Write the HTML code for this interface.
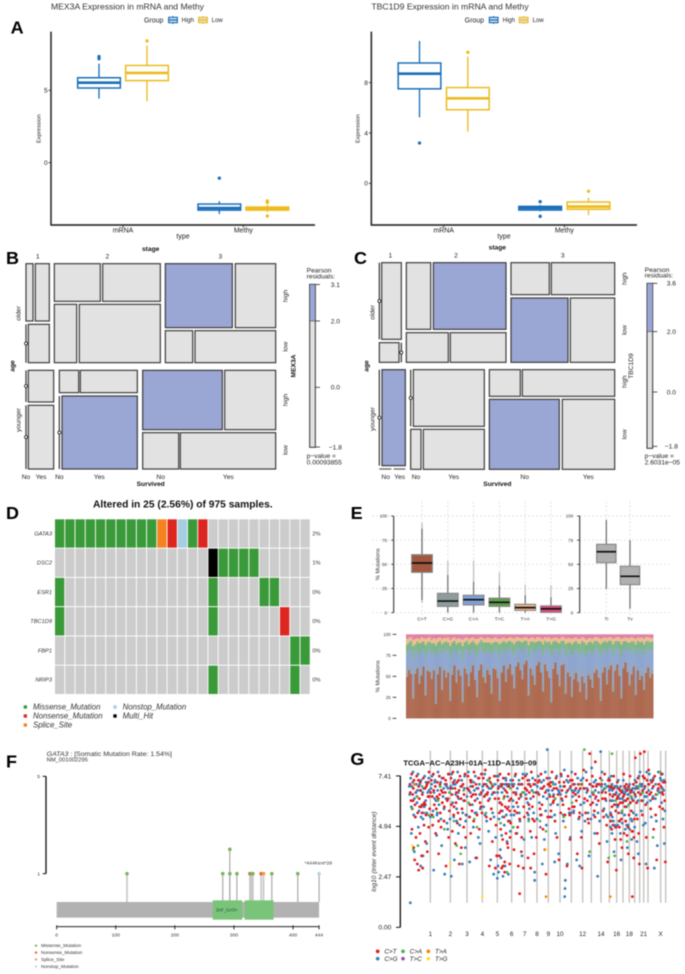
<!DOCTYPE html>
<html lang="en">
<head>
<meta charset="utf-8">
<title>Expression and mutation figure</title>
<style>
html,body{margin:0;padding:0;background:#fff;}
body{width:685px;height:974px;overflow:hidden;}
svg{display:block;filter:blur(0.45px);font-family:"Liberation Sans",sans-serif;}
.lt{font-size:54px;font-weight:700;fill:#000;}
.ttl{font-size:26px;fill:#333;}
.lab{font-size:21px;fill:#222;}
.key{font-size:18px;fill:#222;}
.ylab{font-size:17.5px;fill:#222;}
.mos{font-size:20px;fill:#222;}
.mosb{font-size:20px;font-weight:700;fill:#111;}
</style>
</head>
<body>
<svg id="figure" xmlns="http://www.w3.org/2000/svg" width="685" height="974" viewBox="0 0 685 974">
<rect width="685" height="974" fill="#fff"/>

<g id="panelA" transform="scale(.33333)">
  <text class="lt" x="32" y="100">A</text>
  <text class="ttl" x="153" y="29" textLength="459" lengthAdjust="spacingAndGlyphs">MEX3A Expression in mRNA and Methy</text>
  <text class="lab" x="432" y="67">Group</text>
  <text class="key" x="545" y="66">High</text>
  <text class="key" x="635" y="66">Low</text>
  <text class="ylab" transform="translate(121,386) rotate(-90)" text-anchor="middle">Expression</text>
  <text class="lab" x="549" y="715" text-anchor="middle">type</text>
</g>

<g id="panelA2" transform="translate(342,0) scale(.33333)">
  <text class="ttl" x="88" y="29" textLength="472" lengthAdjust="spacingAndGlyphs">TBC1D9 Expression in mRNA and Methy</text>
  <text class="lab" x="368" y="67">Group</text>
  <text class="key" x="482" y="66">High</text>
  <text class="key" x="572" y="66">Low</text>
  <text class="ylab" transform="translate(53,386) rotate(-90)" text-anchor="middle">Expression</text>
  <text class="lab" x="486" y="715" text-anchor="middle">type</text>
</g>

<g id="panelB" transform="translate(0,240) scale(.33333)">
  <text class="lt" x="18" y="72" font-weight="400">B</text>
  <text class="mosb" x="452" y="33" text-anchor="middle">stage</text>
  <text class="mos" x="113" y="55" text-anchor="middle">1</text>
  <text class="mos" x="322" y="55" text-anchor="middle">2</text>
  <text class="mos" x="661" y="55" text-anchor="middle">3</text>
  <text class="mos" transform="translate(61,220) rotate(-90)" text-anchor="middle">older</text>
  <text class="mos" transform="translate(61,540) rotate(-90)" text-anchor="middle">younger</text>
  <text class="mosb" transform="translate(43,378) rotate(-90)" text-anchor="middle">age</text>
  <text class="mos" transform="translate(862,168) rotate(-90)" text-anchor="middle">high</text>
  <text class="mos" transform="translate(862,320) rotate(-90)" text-anchor="middle">low</text>
  <text class="mos" transform="translate(862,480) rotate(-90)" text-anchor="middle">high</text>
  <text class="mos" transform="translate(862,630) rotate(-90)" text-anchor="middle">low</text>
  <text class="mosb" transform="translate(887,378) rotate(-90)" text-anchor="middle">MEX3A</text>
  <text class="mos" x="78" y="717" text-anchor="middle">No</text>
  <text class="mos" x="123" y="717" text-anchor="middle">Yes</text>
  <text class="mos" x="178" y="717" text-anchor="middle">No</text>
  <text class="mos" x="298" y="717" text-anchor="middle">Yes</text>
  <text class="mos" x="482" y="717" text-anchor="middle">No</text>
  <text class="mos" x="685" y="717" text-anchor="middle">Yes</text>
  <text class="mosb" x="452" y="738" text-anchor="middle">Survived</text>
  <text class="mos" x="920" y="98">Pearson</text>
  <text class="mos" x="920" y="116">residuals:</text>
  <text class="mos" x="920" y="654">p&#8722;value =</text>
  <text class="mos" x="920" y="673">0.00093855</text>
</g>

<g id="panelC" transform="translate(342,240) scale(.33333)">
  <text class="lt" x="36" y="72">C</text>
  <text class="mosb" x="466" y="29" text-anchor="middle">stage</text>
  <text class="mos" x="145" y="53" text-anchor="middle">1</text>
  <text class="mos" x="342" y="53" text-anchor="middle">2</text>
  <text class="mos" x="662" y="53" text-anchor="middle">3</text>
  <text class="mos" transform="translate(98,217) rotate(-90)" text-anchor="middle">older</text>
  <text class="mos" transform="translate(98,537) rotate(-90)" text-anchor="middle">younger</text>
  <text class="mosb" transform="translate(79,378) rotate(-90)" text-anchor="middle">age</text>
  <text class="mos" transform="translate(854,116) rotate(-90)" text-anchor="middle">high</text>
  <text class="mos" transform="translate(854,270) rotate(-90)" text-anchor="middle">low</text>
  <text class="mos" transform="translate(854,425) rotate(-90)" text-anchor="middle">high</text>
  <text class="mos" transform="translate(854,583) rotate(-90)" text-anchor="middle">low</text>
  <text class="mos" transform="translate(873,378) rotate(-90)" text-anchor="middle">TBC1D9</text>
  <text class="mos" x="131" y="717" text-anchor="middle">No</text>
  <text class="mos" x="173" y="717" text-anchor="middle">Yes</text>
  <text class="mos" x="222" y="717" text-anchor="middle">No</text>
  <text class="mos" x="335" y="717" text-anchor="middle">Yes</text>
  <text class="mos" x="548" y="717" text-anchor="middle">No</text>
  <text class="mos" x="739" y="717" text-anchor="middle">Yes</text>
  <text class="mosb" x="466" y="738" text-anchor="middle">Survived</text>
  <text class="mos" x="908" y="96">Pearson</text>
  <text class="mos" x="908" y="113">residuals:</text>
  <text class="mos" x="908" y="654">p&#8722;value =</text>
  <text class="mos" x="908" y="673">2.6031e&#8722;05</text>
</g>

<g id="panelD" transform="translate(0,485) scale(.33333)">
  <text class="lt" x="18" y="102" font-weight="400">D</text>
  <text x="279" y="68" font-size="29" font-weight="700" fill="#111" textLength="539" lengthAdjust="spacingAndGlyphs">Altered in 25 (2.56%) of 975 samples.</text>
</g>

<g id="panelE" transform="translate(342,485) scale(.33333)">
  <text class="lt" x="26" y="102" font-weight="400">E</text>
  <text font-size="17.5" fill="#333" transform="translate(112,238) rotate(-90)" text-anchor="middle">% Mutations</text>
  <text font-size="17.5" fill="#333" transform="translate(112,574) rotate(-90)" text-anchor="middle">% Mutations</text>
</g>

<g id="panelF" transform="translate(0,730) scale(.33333)">
  <text class="lt" x="18" y="112" font-weight="400">F</text>
  <text x="140" y="78" font-size="20" fill="#333" textLength="376" lengthAdjust="spacingAndGlyphs"><tspan font-style="italic">GATA3</tspan> : [Somatic Mutation Rate: 1.54%]</text>
  <text x="140" y="95" font-size="17" fill="#333" textLength="124" lengthAdjust="spacingAndGlyphs">NM_001002295</text>
  <text x="955" y="403" font-size="15" fill="#333" text-anchor="middle">*444Kext*28</text>
</g>

<g id="panelG" transform="translate(342,730) scale(.33333)">
  <text class="lt" x="25" y="105">G</text>
  <text font-size="20" font-style="italic" fill="#333" transform="translate(102,365) rotate(-90)" text-anchor="middle">log10 (inter event distance)</text>
</g>
</svg>

<script>
/* ---------- panel A data: [whiskerLow, q1, median, q3, whiskerHigh, outliers] ---------- */
const exprCategories = ['mRNA', 'Methy'];
const mex3aHigh = [[4.43, 5.16, 5.53, 5.87, 6.84, [7.34, 7.18]], [-3.55, -3.28, -3.14, -2.86, -2.66, [-1.07]]];
const mex3aLow = [[4.25, 5.67, 6.2, 6.72, 8.1, [8.42]], [-3.41, -3.28, -3.17, -3.07, -2.93, [-2.64, -2.75, -3.69]]];
const tbc1d9High = [[5.24, 7.5, 8.7, 9.55, 11.3, [3.2]], [-2.22, -2.12, -1.96, -1.83, -1.72, [-1.46, -2.62]]];
const tbc1d9Low = [[4.1, 5.84, 6.75, 7.6, 10.05, [10.4]], [-2.52, -2.06, -1.85, -1.48, -1.14, [-0.63]]];
const mex3aTicks = [5, 0];
const tbc1d9Ticks = [8, 4, 0];

/* ---------- panels B, C: tiles are [x0, x1, y0, y1, residualHigh] in mosaic share units ---------- */
const mosaicBTiles = [
 [0,21,0,172,0],[28,70,0,172,0],[7,70,182,297,0],[85,223,0,113,0],[230,403,0,113,0],[85,152,122,297,0],[160,403,122,297,0],
 [418,619,0,192,1],[628,749,0,192,0],[418,500,201,297,0],[507,749,201,297,0],[7,83,320,415,0],[7,83,425,616,0],
 [100,158,320,387,0],[163,334,320,387,0],[108,334,397,616,1],[350,589,320,498,1],[596,749,320,498,0],[350,458,507,616,0],[463,749,507,616,0]
];
const mosaicBZeroCells = [[0,182,297],[0,320,415],[0,425,616],[100,397,616]];
const mosaicCTiles = [
 [7,66,0,230,0],[0,59,240,299,0],[81,154,0,200,0],[162,380,0,200,1],[81,207,210,299,0],[213,380,210,299,0],
 [395,510,0,96,0],[516,706,0,96,0],[395,566,106,299,1],[573,706,106,299,0],[8,78,321,609,1],[102,315,321,491,0],
 [94,125,500,620,0],[132,315,500,620,0],[330,423,321,401,0],[429,706,321,401,0],[330,540,410,620,1],[549,706,410,620,0]
];
const mosaicCZeroCells = [[0,0,230],[66,240,299],[0,321,609],[94,321,491]];
const mosaicCFlatCells = [[0,36,619],[43,78,619]];
const residualTicksB = [3.1, 2.0, 0.0, -1.8];
const residualTicksC = [3.6, 2.0, 0.0, -1.8];

/* ---------- panel D data ---------- */
const oncoGenes = ['GATA3', 'DSC2', 'ESR1', 'TBC1D9', 'FBP1', 'NRIP3'];
const oncoPercents = ['2%', '1%', '0%', '0%', '0%', '0%'];
const oncoGata3 = [1,1,1,1,1,1,1,1,1,1,3,2,4,1,2,0,0,0,0,0,0,0,0,0,0];
const oncoDsc2 = [0,0,0,0,0,0,0,0,0,0,0,0,0,0,0,5,1,1,1,1,0,0,0,0,0];
const oncoEsr1 = [1,0,0,0,0,0,0,0,0,0,0,0,0,0,0,1,0,0,0,0,1,1,0,0,0];
const oncoTbc1d9 = [1,0,0,0,0,0,0,0,0,0,0,0,0,0,0,1,0,0,0,0,0,0,2,0,0];
const oncoFbp1 = [0,0,0,0,0,0,0,0,0,0,0,0,0,0,0,0,0,0,0,0,0,0,0,1,1];
const oncoNrip3 = [0,0,0,0,0,0,0,0,0,0,0,0,0,0,0,1,0,0,0,0,0,0,0,1,0];
const oncoLegend = ['Missense_Mutation', 'Nonsense_Mutation', 'Splice_Site', 'Nonstop_Mutation', 'Multi_Hit'];

/* ---------- panel E data ---------- */
const titvTicks = [100, 75, 50, 25, 0];
const conversionNames = ['C>T', 'C>G', 'C>A', 'T>C', 'T>A', 'T>G'];
const conversionStats = [[13,41.7,51.4,60,87,[93,10]],[0,6.5,12,20,39,[54]],[0,8,13.4,18,32,[54]],[0,6.5,10.7,15,28,[42]],[0,2.4,5.2,8.6,18,[29]],[0,0.3,4,7,16,[28.5]]];
const titvNames = ['Ti', 'Tv'];
const titvStats = [[24.5,51.7,63,70.7,96,[]],[4,29,37.6,48,75,[]]];
const stackCT = [46,54,50,22,50,56,38,48,58,26,54,52,44,55,16,50,57,32,54,46,52,20,50,58,40,55,48,18,56,50,36,52,58,44,24,54,60,46,40,55,50,28,56,54,46,20,52,58,42,56,
  60,50,34,58,62,54,44,60,64,26,56,48,38,58,62,52,30,60,55,46,18,56,62,50,36,58,60,28,52,48,24,44,50,42,30,46,40,22,48,44,34,50,54,46,20,52,56,38,55,58,30,54,60,48,22,56,62,52,36,50,58,26,54,44,48,32,52,56,46,50];
const stackCG = [6,4,7,10,5,3,8,6,4,12,3,6,7,4,14,5,3,10,4,7,5,12,6,3,7,4,6,13,4,6,9,5,3,7,11,4,3,6,8,4,6,11,3,5,7,13,5,3,8,4,
  3,6,9,3,2,5,7,3,2,11,4,7,9,3,2,6,10,3,5,7,14,4,2,6,9,3,3,11,5,7,12,8,6,8,11,7,9,13,6,8,10,6,5,7,14,5,4,9,5,3,10,5,3,7,12,4,2,5,9,6,4,11,5,8,7,10,6,4,7,6];
const stackCA = [19,18,20,34,20,16,24,22,16,32,18,20,22,18,38,21,17,30,19,22,20,36,21,16,24,18,22,36,17,21,26,20,16,24,34,18,15,22,26,18,21,32,17,18,23,36,20,16,26,18,
  15,20,28,16,14,18,24,15,13,32,17,21,27,15,14,20,30,15,19,24,38,18,14,21,27,16,15,32,20,22,34,24,20,25,30,22,26,36,21,24,28,20,18,23,36,20,17,26,18,16,30,19,15,22,34,17,14,19,27,21,16,32,19,25,23,29,20,17,23,21];
const stackTC = [11,9,10,14,8,11,12,9,8,13,11,8,11,9,13,10,9,12,8,11,9,14,10,8,12,9,10,15,8,10,12,9,8,11,14,9,9,11,12,9,10,13,9,8,11,15,9,8,11,9,
  8,11,13,9,8,9,11,8,7,14,9,10,12,8,7,9,13,8,9,10,14,9,8,9,12,8,8,13,9,10,13,10,9,11,13,10,11,14,10,11,12,9,9,10,14,9,8,12,9,8,13,9,8,10,14,9,8,9,11,10,8,13,9,10,9,12,10,8,10,9];
const stackTA = [6,5,4,7,6,4,5,6,4,7,5,5,4,6,7,5,4,6,5,4,6,7,5,4,6,5,4,7,5,4,6,5,4,5,7,5,3,5,4,6,5,6,5,5,4,6,5,4,5,4,
  4,5,6,5,4,4,5,4,4,7,4,5,4,5,4,4,6,4,5,5,6,4,4,5,5,4,4,6,5,5,6,5,4,5,6,4,5,6,5,4,5,4,4,5,6,5,4,5,4,4,6,4,4,5,6,4,4,5,5,5,4,6,4,5,5,6,5,4,5,4];
const stackTG = [5,4,3,6,5,4,5,3,4,5,4,3,6,4,5,4,3,5,4,4,3,6,4,3,5,4,5,6,4,3,5,4,3,5,5,4,3,4,5,3,4,5,4,3,5,5,4,3,5,4,
  3,4,5,3,3,4,4,3,3,5,4,3,5,3,3,4,5,3,4,3,5,4,3,4,5,3,3,5,4,4,5,4,3,5,5,3,4,6,4,4,5,3,3,4,5,4,3,4,3,3,5,4,3,3,5,4,3,4,4,3,4,5,3,4,3,5,3,3,4,4];

/* ---------- panel F data ---------- */
const lollipopAxisTicks = [0, 100, 200, 300, 400, 444];
const lollipopCountTicks = [5, 1];
const lollipopAA = [119, 281, 293, 293, 305, 327, 329, 330, 332, 346, 350, 364, 408, 444];
const lollipopCounts = [1, 1, 2, 1, 1, 1, 1, 1, 1, 1, 1, 1, 1, 1];
const lollipopTypes = [0, 0, 0, 0, 0, 1, 0, 0, 0, 1, 2, 0, 0, 3];
const lollipopLegend = ['Missense_Mutation', 'Nonsense_Mutation', 'Splice_Site', 'Nonstop_Mutation'];
const proteinLength = [444];
const domainRanges = [[264, 314], [318, 367]];

/* ---------- panel G data: flat pairs of genome position, log10 distance ---------- */
const rainfallTicks = [7.41, 4.94, 2.47, 0.00];
const chromBoundaries = [65,125,175,221,266,309,348,385,419,454,488,522,548,577,602,624,643,662,678,693,705,718,756,771];
const chromLabels = ['1','2','3','4','5','6','7','8','9','10','','12','','14','','16','','18','','','21','','X',''];
const ctPoints = [
4,7.0,7,6.2,9,7.5,11,5.8,14,6.8,16,7.2,19,6.0,21,6.6,24,7.4,27,5.6,30,6.9,32,6.3,35,7.1,38,5.9,41,6.5,44,7.3,47,6.1,49,6.8,52,5.5,55,7.0,58,6.4,61,7.6,63,5.8,
10,4.8,15,3.9,18,3.3,22,4.4,26,3.1,30,2.8,34,4.6,39,3.5,42,2.9,46,5.0,50,4.2,56,3.7,60,4.9,
68,7.2,71,6.4,74,7.5,77,6.0,80,6.9,83,5.8,86,7.1,89,6.3,92,7.4,95,5.6,98,6.7,101,6.1,104,7.3,107,5.9,110,6.6,113,7.0,116,6.2,119,7.5,122,5.7,
72,5.0,81,4.6,90,3.6,97,4.9,106,5.2,112,3.0,120,4.4,
127,7.3,130,6.5,133,7.6,136,5.9,139,6.8,142,6.1,145,7.1,148,5.6,151,6.7,154,7.4,157,6.3,160,5.8,163,7.0,166,6.5,169,7.5,172,5.5,
131,4.7,140,4.1,146,5.1,152,3.1,158,3.9,165,4.9,171,4.4,
178,7.4,181,6.7,184,6.0,187,7.1,190,5.7,193,6.5,196,7.6,199,6.2,202,7.0,205,5.5,208,6.8,211,7.3,214,6.1,217,5.9,219,7.5,
186,4.6,195,5.2,204,3.4,212,4.8,
224,7.3,227,6.4,230,7.7,233,5.4,236,6.9,239,6.2,242,3.0,245,7.1,248,5.8,251,4.2,254,6.6,257,7.4,260,2.9,262,5.0,264,3.5,
268,7.2,270,6.3,272,5.6,274,7.5,276,4.8,278,6.9,280,6.0,282,4.3,284,7.3,286,5.4,288,3.2,290,6.7,292,4.6,294,7.0,296,5.8,298,3.9,300,7.5,302,6.2,304,4.4,306,5.1,
272,3.5,279,2.9,283,3.0,288,2.7,296,4.1,303,3.1,
312,7.2,315,6.6,318,5.7,321,7.5,324,6.1,327,4.9,330,7.0,333,5.3,333,1.65,336,6.5,339,4.4,342,7.3,345,5.9,
316,3.8,322,4.6,329,3.0,338,3.7,344,2.9,
350,7.4,353,6.3,356,5.6,359,7.0,362,6.6,365,4.7,368,7.6,371,5.9,374,6.4,377,5.2,380,7.2,383,4.4,
358,3.4,366,2.9,376,3.6,
388,7.1,391,6.5,394,5.8,397,7.5,400,6.0,403,4.8,406,6.9,409,3.8,412,2.6,415,7.3,417,5.4,
421,7.0,424,6.4,427,5.7,430,7.6,433,6.1,436,6.8,439,5.2,442,7.3,445,4.4,448,6.5,451,3.3,
457,7.5,460,6.7,463,6.0,466,7.1,469,5.5,472,6.4,475,3.0,478,7.4,481,5.8,484,4.3,486,6.9,
491,7.2,494,6.6,497,5.9,500,7.5,503,6.2,506,3.6,509,7.0,512,5.4,515,6.8,518,4.4,520,2.9,
525,7.7,528,6.3,531,5.6,534,7.2,537,6.7,540,5.1,543,8.5,546,6.0,
551,7.4,554,6.5,557,5.7,560,8.1,563,6.9,566,4.6,569,6.2,572,4.1,575,7.3,
579,7.0,582,6.3,585,5.4,588,7.5,591,6.6,594,5.0,597,3.2,600,6.9,
603,7.2,605,6.2,607,5.5,609,4.8,611,6.8,613,5.0,615,7.4,617,6.0,619,4.3,621,5.7,623,2.8,
626,7.1,628,6.4,630,5.6,632,4.9,634,6.7,636,4.3,638,5.3,640,3.9,642,6.1,
645,7.5,647,6.5,649,5.9,651,5.2,653,7.0,655,4.5,657,6.3,659,3.6,661,5.5,
664,7.4,666,6.6,668,5.7,670,4.7,671,1.5,673,6.2,675,3.4,677,5.3,
680,8.3,682,6.8,684,6.1,686,5.3,688,7.3,690,4.6,692,3.1,
695,8.5,697,7.0,699,6.2,701,5.5,703,7.4,
707,8.6,709,6.9,711,6.0,713,4.4,715,7.2,717,2.9,
720,7.7,723,6.5,726,5.8,729,7.1,732,6.3,735,4.8,738,7.4,741,5.5,744,3.3,747,6.7,750,7.0,753,5.9,
758,7.5,760,6.6,762,5.8,764,7.1,766,4.9,768,6.2,770,3.2,
50,6.0,128,6.0,215,6.5,290,5.9,355,6.7,425,6.9,500,6.5,565,7.0,610,5.9,650,6.8,
12,6.5,33,5.9,62,6.4,93,6.5,147,6.4,188,6.4,237,6.6,303,5.7,361,6.0,434,6.4,492,5.9,552,6.1,629,6.0,668,6.4,733,7.2,
5,6.6,13,6.2,18,7.0,25,6.4,29,7.2,36,6.7,43,6.0,53,6.9,59,7.1,66,6.6,75,6.7,85,6.4,94,7.0,102,6.6,111,7.2,118,6.3,
126,6.8,134,7.1,143,6.6,150,7.2,159,6.9,168,6.2,177,6.8,185,7.2,192,6.9,201,6.5,209,7.3,218,6.6,226,7.0,235,6.5,243,7.3,
252,6.9,259,6.3,269,6.8,275,6.1,281,7.0,287,6.4,295,6.6,301,6.9,307,6.3,313,6.9,322,6.5,331,6.3,340,7.0,349,6.8,357,7.2,
366,6.9,375,7.0,384,6.6,392,7.2,401,6.8,410,6.6,418,7.0,426,7.1,435,6.2,444,6.8,452,7.1,459,6.3,468,6.9,477,6.7,485,7.2,
494,7.0,502,6.8,511,6.4,519,7.0,527,6.8,536,6.2,545,7.0,553,6.9,562,6.4,571,7.0,580,6.6,590,6.3,599,7.2,604,6.5,608,6.9,
612,6.4,616,6.8,620,6.5,625,6.3,631,6.8,635,6.1,639,6.6,644,6.4,648,6.9,652,6.2,656,6.7,660,6.9,665,6.1,669,6.7,674,7.0,
679,6.5,683,7.1,689,6.6,696,6.5,702,6.7,708,7.3,714,6.6,721,7.0,727,6.6,734,6.9,742,6.5,749,6.8,757,6.9,763,6.5,769,7.1,
20,5.4,40,5.6,70,5.5,90,5.2,135,5.5,155,5.3,183,5.4,220,5.6,246,5.3,277,5.7,299,5.2,325,5.6,347,5.4,372,5.3,398,5.5,
423,5.4,456,5.6,483,5.5,513,5.6,538,5.3,559,5.4,583,5.7,606,5.2,622,4.9,633,5.2,646,4.6,658,4.9,672,4.7,676,4.4,
];
const cgPoints = [
3,6.5,6,7.3,8,5.9,10,6.9,13,7.6,17,6.3,20,5.4,23,7.0,25,6.1,28,7.5,31,5.7,34,6.7,37,7.2,40,6.0,43,5.3,45,6.8,48,7.4,51,6.2,54,5.6,57,6.6,60,7.3,
8,4.6,17,3.7,29,4.9,36,3.0,43,3.5,54,4.1,5,1.2,
67,6.8,70,7.4,73,5.7,76,6.6,79,7.2,82,6.2,85,5.5,88,7.6,91,6.0,94,6.9,97,5.3,100,7.3,103,6.4,106,5.8,109,7.0,112,6.3,115,5.1,118,6.8,121,7.5,
75,2.8,84,4.5,99,4.0,108,2.6,117,4.8,
126,6.9,129,7.5,132,6.1,135,5.4,138,7.2,141,6.5,144,5.8,147,7.6,150,6.3,153,5.0,156,6.9,159,7.2,162,5.6,165,6.2,168,7.4,171,5.2,
128,2.5,137,3.3,149,4.6,161,3.1,170,3.9,
176,6.8,179,7.6,182,5.4,185,6.6,188,7.2,191,6.0,194,4.9,197,6.7,200,7.4,203,5.6,206,6.3,209,4.4,212,7.0,215,5.8,218,7.5,
183,3.2,201,3.4,214,4.1,
222,6.9,225,5.9,228,7.5,231,6.5,234,5.2,237,7.2,240,4.7,243,6.3,246,3.3,249,7.0,252,5.6,255,2.6,258,6.6,261,4.4,263,7.4,
267,6.6,269,7.4,271,5.3,273,6.1,275,3.8,277,7.0,279,4.5,281,5.7,283,2.5,285,6.8,287,5.0,289,3.0,291,7.3,293,5.5,295,4.2,297,6.4,299,2.6,301,7.0,303,5.2,305,4.7,
268,3.0,270,2.7,266,2.4,277,3.4,
310,7.0,313,6.2,316,5.5,319,7.4,322,6.6,325,4.6,328,5.9,331,7.2,334,5.2,337,6.4,340,3.5,343,7.5,346,4.3,
351,6.8,354,7.5,357,6.1,360,5.3,363,7.0,366,6.3,369,4.4,372,7.3,375,5.6,378,2.7,381,6.6,
386,6.9,389,7.4,392,6.1,395,5.5,398,7.1,401,3.1,404,6.4,407,4.3,410,7.6,413,5.0,416,8.7,378,2.3,
420,6.7,423,7.3,426,6.0,429,5.4,432,7.1,435,6.5,438,3.2,441,4.6,444,7.4,447,6.0,450,3.6,
455,6.9,458,7.4,461,6.2,464,5.5,467,7.7,468,1.5,469,1.9,470,2.3,473,6.6,476,3.1,479,7.1,482,5.6,485,4.4,
489,7.6,492,6.4,495,5.7,498,7.0,501,6.5,504,3.3,507,7.3,510,5.3,513,3.0,516,6.0,519,4.7,
523,7.3,526,6.1,529,5.2,532,7.6,535,6.8,538,5.6,541,3.5,544,6.4,
549,7.8,552,6.9,555,5.5,558,4.6,561,7.2,564,6.0,567,2.5,570,6.6,573,5.2,576,8.6,
580,7.6,583,6.7,586,5.8,589,7.0,592,6.2,595,4.2,598,5.4,601,7.3,
604,6.8,606,5.6,608,7.4,610,4.6,612,6.2,614,5.2,616,3.7,618,6.9,620,4.9,622,6.0,
625,6.9,627,5.9,629,7.2,631,5.2,633,6.3,635,4.6,637,3.3,639,5.6,641,6.7,
644,7.2,646,6.2,648,5.5,650,4.8,652,6.7,654,5.9,656,3.9,658,5.0,660,6.5,
663,7.0,665,6.1,667,5.3,669,4.3,672,6.8,674,5.6,676,3.4,
679,7.2,681,6.4,683,5.5,685,4.2,687,6.8,689,3.6,691,7.4,
694,7.6,696,6.5,698,5.7,700,7.0,702,6.2,704,5.0,
706,7.3,708,6.4,710,5.1,712,3.1,714,7.6,716,6.1,
719,7.0,722,7.5,725,6.2,728,5.4,731,6.8,734,7.3,737,2.9,740,6.3,743,5.2,746,4.0,749,7.6,752,6.6,
757,7.2,759,6.1,761,7.5,763,5.3,765,6.7,767,4.1,769,5.7,
26,6.7,47,5.9,78,6.3,134,7.0,192,6.9,247,6.8,292,7.2,314,5.9,362,5.8,415,6.3,452,6.6,511,6.7,556,7.1,610,7.0,649,6.6,699,6.9,
2,6.9,12,7.1,22,6.6,33,7.0,42,6.6,52,7.1,61,6.7,69,7.0,78,7.1,87,6.7,96,7.1,105,6.8,114,6.9,123,6.6,131,6.8,140,7.0,149,6.6,
158,6.9,167,6.8,175,6.4,186,6.9,195,7.1,204,6.8,213,6.5,223,6.7,232,7.0,241,6.8,250,6.5,259,7.0,271,6.9,280,6.6,289,7.0,
297,6.9,306,7.2,316,7.0,326,6.8,335,7.0,344,6.6,352,6.5,361,7.2,370,6.7,379,7.0,388,6.6,396,6.8,405,7.2,414,6.7,422,6.5,
431,6.7,440,7.0,449,6.7,456,6.5,465,6.9,474,7.2,483,6.8,490,6.7,499,6.7,508,6.6,517,7.2,526,6.8,534,6.6,543,7.0,551,6.6,
560,6.7,569,7.0,578,6.9,587,6.8,595,6.9,602,6.7,607,6.2,611,6.7,615,6.5,619,6.9,623,6.6,628,6.8,632,6.5,636,6.9,640,6.3,
645,6.6,649,6.2,653,6.8,657,6.5,661,6.8,666,6.7,670,6.3,675,6.6,680,6.8,684,6.9,688,6.2,695,7.0,701,6.6,707,6.8,713,6.4,
720,6.7,726,7.2,733,6.4,741,7.0,748,6.7,755,7.3,761,6.8,766,7.2,
15,5.5,37,5.4,65,5.4,86,5.6,124,5.3,144,5.2,174,5.5,199,5.6,229,5.5,256,5.4,282,5.4,307,5.5,332,5.6,359,5.5,385,5.3,411,5.7,
438,5.5,464,5.2,487,5.6,521,5.5,547,5.3,568,5.6,593,5.5,605,4.9,611,5.4,618,5.0,627,5.0,641,5.1,654,5.0,663,4.8,670,5.2,678,4.9
];
const caPoints = [
10,5.8,14,3.8,28,4.0,40,6.9,60,5.5,74,5.4,88,6.2,107,4.8,122,6.6,136,5.2,144,4.0,156,3.6,180,6.1,197,5.3,205,4.9,232,5.6,250,7.0,
276,5.1,285,6.3,295,2.7,314,4.9,341,6.6,360,5.2,394,5.2,412,4.7,433,7.0,465,5.4,490,6.1,527,8.7,543,3.7,554,6.6,610,8.5,618,3.5,
640,5.7,655,4.2,668,6.4,700,6.6,733,4.4,755,7.6,600,3.4,580,7.2,
24,6.4,95,6.9,165,6.7,240,7.2,305,6.8,375,6.6,440,6.3,515,7.0,590,6.8,620,6.2,660,6.0,690,6.9,745,6.5
];
const tcPoints = [395,4.9,495,5.6,45,5.6,300,5.9,560,6.3];
const taPoints = [412,1.5,605,1.5,470,4.9,18,7.0];
const tgPoints = [12,4.0,125,3.1,221,1.5,412,3.8];

/* ---------- drawing ---------- */
const NS = 'http://www.w3.org/2000/svg';
function mk(parent, tag, attrs, txt) {
  const el = document.createElementNS(NS, tag);
  for (const k in attrs) el.setAttribute(k, attrs[k]);
  if (txt !== undefined) el.textContent = txt;
  parent.appendChild(el);
  return el;
}
function tag(el, name) {
  
  
  return el;
}
const ln = (p, x1, y1, x2, y2, stroke, w, extra) => mk(p, 'line', Object.assign({x1, y1, x2, y2, stroke, 'stroke-width': w}, extra || {}));

const BLUE = '#1a6fba', YEL = '#edbb1c';

function boxChart(gid, prefix, high, low, ticks, yOf, axisX, axisRight, catX, dodge) {
  const g = document.getElementById(gid);
  tag(ln(g, axisX, 95, axisX, 677, '#333', 5), prefix + '-y-axis');
  tag(ln(g, axisX, 675, axisRight, 675, '#333', 5), prefix + '-x-axis');
  ticks.forEach(t => {
    tag(ln(g, axisX - 7, yOf(t), axisX, yOf(t), '#333', 3), prefix + '-y-tick');
    tag(mk(g, 'text', {x: axisX - 10, y: yOf(t) + 7, 'text-anchor': 'end', 'font-size': 20, fill: '#222'}, String(t)), prefix + '-y-tick-label');
  });
  exprCategories.forEach((c, i) => {
    const cx = catX[i];
    tag(ln(g, cx, 675, cx, 682, '#333', 3), prefix + '-x-tick');
    tag(mk(g, 'text', {x: cx, y: 697, 'text-anchor': 'middle', 'font-size': 21, fill: '#222'}, c), prefix + '-x-tick-label');
    [[high, -dodge, BLUE, 'high'], [low, dodge, YEL, 'low']].forEach(([s, d, col, nm]) => {
      const v = s[i], x = cx + d, w = 64;
      tag(ln(g, x, yOf(v[0]), x, yOf(v[4]), col, 4), prefix + '-whisker-' + nm);
      tag(mk(g, 'rect', {x: x - w, y: yOf(v[3]), width: 2 * w, height: yOf(v[1]) - yOf(v[3]), fill: '#fff', stroke: col, 'stroke-width': 4.5}), prefix + '-box-' + nm);
      tag(ln(g, x - w, yOf(v[2]), x + w, yOf(v[2]), col, 8), prefix + '-median-' + nm);
      v[5].forEach(o => {
        tag(mk(g, 'circle', {cx: x, cy: yOf(o), r: 5, fill: col}), prefix + '-outlier-' + nm);
      });
    });
  });
}
const mex3aKeyX = [519, 609];
const tbc1d9KeyX = [455, 545];
function legendKeys(gid, prefix, xs) {
  const g = document.getElementById(gid);
  [BLUE, YEL].forEach((col, i) => {
    tag(ln(g, xs[i], 48, xs[i], 72, col, 3), prefix + '-legend-key-whisker');
    tag(mk(g, 'rect', {x: xs[i] - 13, y: 52, width: 26, height: 16, fill: '#dfe6ee', stroke: col, 'stroke-width': 3.5}), prefix + '-legend-key');
    tag(ln(g, xs[i] - 13, 60, xs[i] + 13, 60, col, 4), prefix + '-legend-key-median');
  });
}
boxChart('panelA', 'mex3a', mex3aHigh, mex3aLow, mex3aTicks, v => 488 - 43.4 * v, 153, 945, [369, 730], 72);
boxChart('panelA2', 'tbc1d9', tbc1d9High, tbc1d9Low, tbc1d9Ticks, v => 550 - 37.8 * v, 88, 885, [305, 667], 72.5);
legendKeys('panelA', 'mex3a', mex3aKeyX);
legendKeys('panelA2', 'tbc1d9', tbc1d9KeyX);

function mosaic(gid, prefix, tiles, zeros, flats, ox, oy, ticks, barX, barTop, barBottom, resY, labelX) {
  const g = document.getElementById(gid);
  tiles.forEach(t => {
    const r = mk(g, 'rect', {x: ox + t[0], y: oy + t[2], width: t[1] - t[0], height: t[3] - t[2], fill: t[4] ? '#9aa6d4' : '#e2e2e2', stroke: '#3c3c3c', 'stroke-width': 3.6});
    tag(r, prefix + '-tile');
  });
  zeros.forEach(z => {
    tag(ln(g, ox + z[0], oy + z[1], ox + z[0], oy + z[2], '#444', 4), prefix + '-zero-cell');
    tag(mk(g, 'circle', {cx: ox + z[0], cy: oy + (z[1] + z[2]) / 2, r: 4.5, fill: '#fff', stroke: '#111', 'stroke-width': 2.2}), prefix + '-zero-marker');
  });
  flats.forEach(f => {
    tag(ln(g, ox + f[0], oy + f[2], ox + f[1], oy + f[2], '#666', 4), prefix + '-flat-cell');
  });
  tag(mk(g, 'rect', {x: barX, y: barTop, width: 17, height: barBottom - barTop, fill: '#e2e2e2', stroke: '#333', 'stroke-width': 3}), prefix + '-legend-bar');
  tag(mk(g, 'rect', {x: barX, y: barTop, width: 17, height: resY(2) - barTop, fill: '#9aa6d4', stroke: '#333', 'stroke-width': 1.5}), prefix + '-legend-bar-high');
  ticks.forEach(t => {
    const y = Math.max(barTop, Math.min(barBottom, resY(t)));
    tag(ln(g, barX + 17, y, barX + 31, y, '#333', 2.5), prefix + '-legend-tick');
    const s = t < 0 ? '\u2212' + Math.abs(t).toFixed(1) : t.toFixed(1);
    tag(mk(g, 'text', {x: labelX, y: y + 7, 'text-anchor': 'middle', 'font-size': 20, fill: '#222'}, s), prefix + '-legend-tick-label');
  });
}
mosaic('panelB', 'mosaic-b', mosaicBTiles, mosaicBZeroCells, [], 78, 71, residualTicksB, 929, 133, 622, v => 442 - 99.5 * v, 1006);
mosaic('panelC', 'mosaic-c', mosaicCTiles, mosaicCZeroCells, mosaicCFlatCells, 112, 68, residualTicksC, 915, 130, 625, v => 456 - 90.6 * v, 988);

/* oncoplot */
(function () {
  const g = document.getElementById('panelD');
  const rows = [oncoGata3, oncoDsc2, oncoEsr1, oncoTbc1d9, oncoFbp1, oncoNrip3];
  const colors = ['#cccccc', '#3a9a3a', '#dd2620', '#f5821f', '#a6cee3', '#000000'];
  const colX = c => 165 + c * 30.68, rowY = r => 103 + r * 87.8;
  rows.forEach((row, r) => {
    tag(mk(g, 'text', {x: 156, y: rowY(r) + 48, 'text-anchor': 'end', 'font-size': 17, 'font-style': 'italic', fill: '#333'}, oncoGenes[r]), 'oncoplot-gene-label');
    tag(mk(g, 'text', {x: 937, y: rowY(r) + 48, 'font-size': 17, fill: '#333'}, oncoPercents[r]), 'oncoplot-percent-label');
    row.forEach((code, c) => {
      tag(mk(g, 'rect', {x: colX(c), y: rowY(r), width: 28, height: 85, fill: colors[code]}), 'oncoplot-cell');
    });
  });
  const lx = [76, 76, 76, 345, 345], ly = [666, 693, 720, 666, 693], lc = [1, 2, 3, 4, 5];
  oncoLegend.forEach((name, i) => {
    tag(mk(g, 'rect', {x: lx[i] - 5, y: ly[i] - 5, width: 10, height: 10, fill: colors[lc[i]]}), 'oncoplot-legend-swatch');
    tag(mk(g, 'text', {x: lx[i] + 23, y: ly[i] + 8, 'font-size': 23.5, 'font-style': 'italic', fill: '#333'}, name), 'oncoplot-legend-label');
  });
})();

/* Ti/Tv */
(function () {
  const g = document.getElementById('panelE');
  const colors = ['#a2583f', '#8f9c9c', '#7f9fd8', '#5c9e4a', '#f7b58c', '#e0457f'];
  const stackColors = ['#ad6a50', '#9aa4ae', '#8ea6cf', '#7fb58a', '#edbd8f', '#e07fa8'];
  const y = v => 383 - 2.9 * v, sy = v => 700 - 2.52 * v;
  function grid(x0, x1, cats) {
    titvTicks.forEach(t => {
      tag(ln(g, x0, y(t), x1, y(t), '#cfcfcf', 2, {'stroke-dasharray': '5 7'}), 'titv-grid-horizontal');
    });
    cats.forEach(cx => {
      tag(ln(g, cx, 50, cx, 390, '#cfcfcf', 2, {'stroke-dasharray': '5 7'}), 'titv-grid-vertical');
    });
  }
  function axis(x, labelX) {
    tag(ln(g, x, 93, x, 383, '#555', 4), 'titv-y-axis');
    titvTicks.forEach(t => {
      tag(ln(g, x - 7, y(t), x, y(t), '#444', 3), 'titv-y-tick');
      tag(mk(g, 'text', {x: labelX, y: y(t) + 5, 'text-anchor': 'end', 'font-size': 13, fill: '#333'}, String(t)), 'titv-y-tick-label');
    });
  }
  function box(cx, w, s, col, name) {
    const v = s;
    v[5].forEach(o => {
      tag(ln(g, cx, y(v[4]), cx, y(o), '#c0c0c0', 4), 'titv-outlier-range');
    });
    tag(ln(g, cx, y(v[0]), cx, y(v[4]), '#777', 4), 'titv-whisker');
    tag(mk(g, 'rect', {x: cx - w, y: y(v[3]), width: 2 * w, height: y(v[1]) - y(v[3]), fill: col, stroke: '#888', 'stroke-width': 3.5}), 'titv-box');
    tag(ln(g, cx - w, y(v[2]), cx + w, y(v[2]), '#111', 5), 'titv-median');
    tag(mk(g, 'text', {x: cx, y: 407, 'text-anchor': 'middle', 'font-size': 15, fill: '#333'}, name), 'titv-x-label');
  }
  const convX = i => 240 + i * 77.4;
  const tvX = i => 793 + i * 71;
  grid(90, 660, conversionNames.map((n, i) => convX(i)));
  grid(690, 985, titvNames.map((n, i) => tvX(i)));
  axis(155, 135);
  axis(713, 693);
  conversionStats.forEach((s, i) => box(convX(i), 31, s, colors[i], conversionNames[i]));
  titvStats.forEach((s, i) => box(tvX(i), 29, s, '#b0b0b0', titvNames[i]));

  titvTicks.forEach(t => {
    tag(ln(g, 152, sy(t), 163, sy(t), '#444', 3), 'stack-y-tick');
    tag(mk(g, 'text', {x: 146, y: sy(t) + 5, 'text-anchor': 'end', 'font-size': 13, fill: '#333'}, String(t)), 'stack-y-tick-label');
  });
  const series = [stackCT, stackCG, stackCA, stackTC, stackTA, stackTG];
  const n = stackCT.length, bw = 742 / n;
  stackCT.forEach((_, i) => {
    const total = series.reduce((a, s) => a + s[i], 0);
    let acc = 0;
    series.forEach((s, k) => {
      const pct = s[i] / total * 100;
      const r = mk(g, 'rect', {x: 192 + i * bw, y: sy(acc + pct), width: bw + 0.4, height: pct * 2.52 + 0.3, fill: stackColors[k]});
      tag(r, 'stack-segment');
      acc += pct;
    });
  });
})();

/* lollipop */
(function () {
  const g = document.getElementById('panelF');
  const x = a => 170 + a * 1.773, y = c => 504 - 73 * c;
  const cols = ['#7cb35c', '#e8603c', '#f39a3d', '#b5d4e8'];
  tag(ln(g, 138, y(5), 138, y(1), '#111', 4), 'lollipop-y-axis');
  lollipopCountTicks.forEach(t => {
    tag(ln(g, 128, y(t), 138, y(t), '#111', 3), 'lollipop-y-tick');
    tag(mk(g, 'text', {x: 120, y: y(t) + 5, 'text-anchor': 'end', 'font-size': 15, fill: '#333'}, String(t)), 'lollipop-y-tick-label');
  });
  lollipopAA.forEach((a, i) => {
    tag(ln(g, x(a), 516, x(a), y(lollipopCounts[i]), lollipopCounts[i] === 1 && (a === 119 || a > 325 && a < 355) ? '#c8c8c8' : '#a8a8a8', a === 119 || a > 325 && a < 355 ? 5 : 3.5), 'lollipop-stem');
  });
  tag(mk(g, 'rect', {x: x(0), y: 516, width: x(proteinLength[0]) - x(0), height: 47, fill: '#b2b2b2'}), 'protein-bar');
  domainRanges.forEach(d => {
    tag(mk(g, 'rect', {x: x(d[0]), y: 511, width: x(d[1]) - x(d[0]), height: 58, fill: '#7ac47a'}), 'protein-domain');
  });
  tag(mk(g, 'text', {x: 680, y: 544, 'text-anchor': 'middle', 'font-size': 13, fill: '#244'}, 'ZnF_GATA'), 'protein-domain-label');
  lollipopAA.forEach((a, i) => {
    tag(mk(g, 'circle', {cx: x(a), cy: y(lollipopCounts[i]), r: 5.5, fill: cols[lollipopTypes[i]]}), 'lollipop-head');
  });
  tag(ln(g, x(0), 590, x(444), 590, '#222', 3), 'lollipop-x-axis');
  lollipopAxisTicks.forEach(t => {
    tag(ln(g, x(t), 586, x(t), 598, '#222', 3), 'lollipop-x-tick');
    tag(mk(g, 'text', {x: x(t), y: 620, 'text-anchor': 'middle', 'font-size': 15, fill: '#333'}, String(t)), 'lollipop-x-tick-label');
  });
  lollipopLegend.forEach((n, i) => {
    const ly = 647 + i * 20.7;
    tag(mk(g, 'circle', {cx: 108, cy: ly, r: 3.5, fill: cols[i]}), 'lollipop-legend-dot');
    tag(mk(g, 'text', {x: 123, y: ly + 4.5, 'font-size': 14, fill: '#333'}, n), 'lollipop-legend-label');
  });
})();

/* rainfall */
(function () {
  const g = document.getElementById('panelG');
  const x = p => 200 + p, y = l => 592 - 61.3 * l;
  tag(ln(g, 175, y(7.41), 175, y(0), '#111', 4), 'rainfall-y-axis');
  rainfallTicks.forEach(t => {
    tag(ln(g, 162, y(t), 175, y(t), '#111', 3), 'rainfall-y-tick');
    tag(mk(g, 'text', {x: 148, y: y(t) + 7, 'text-anchor': 'end', 'font-size': 20, fill: '#222'}, t.toFixed(2)), 'rainfall-y-tick-label');
  });
  chromBoundaries.forEach((b, i) => {
    tag(ln(g, x(b), y(8.65), x(b), y(1.2), '#bdb8b4', 3.5), 'chromosome-boundary');
    if (chromLabels[i]) {
      tag(mk(g, 'text', {x: x(b), y: 618, 'text-anchor': 'middle', 'font-size': 19, fill: '#222'}, chromLabels[i]), 'chromosome-label');
    }
  });
  const sets = [[ctPoints, '#e41a1c', 'ct'], [cgPoints, '#377eb8', 'cg'], [caPoints, '#4daf4a', 'ca'], [tcPoints, '#984ea3', 'tc'], [taPoints, '#ff7f00', 'ta'], [tgPoints, '#ffdd33', 'tg']];
  const maxLen = Math.max(ctPoints.length, cgPoints.length);
  for (let i = 0; i < maxLen; i += 2) {
    [sets[1], sets[0]].forEach(s => {
      if (i < s[0].length) {
        tag(mk(g, 'circle', {cx: x(s[0][i]), cy: y(s[0][i + 1]), r: 4.2, fill: s[1]}), 'rainfall-point-' + s[2]);
      }
    });
  }
  sets.slice(2).forEach(s => {
    for (let i = 0; i < s[0].length; i += 2) {
      tag(mk(g, 'circle', {cx: x(s[0][i]), cy: y(s[0][i + 1]), r: 4, fill: s[1]}), 'rainfall-point-' + s[2]);
    }
  });
  tag(mk(g, 'text', {x: 184, y: 107, 'font-size': 22, 'font-weight': 700, fill: '#111', textLength: 400, lengthAdjust: 'spacingAndGlyphs'}, 'TCGA\u2212AC\u2212A23H\u221201A\u221211D\u2212A159\u221209'), 'rainfall-title');
  const legendNames = ['C>T', 'C>G', 'C>A', 'T>C', 'T>A', 'T>G'];
  const legendCols = ['#e41a1c', '#377eb8', '#4daf4a', '#984ea3', '#ff7f00', '#ffdd33'];
  legendNames.forEach((n, i) => {
    const lx = 107 + Math.floor(i / 2) * 76, ly = 664 + (i % 2) * 22;
    tag(mk(g, 'circle', {cx: lx, cy: ly, r: 5.5, fill: legendCols[i]}), 'rainfall-legend-dot');
    tag(mk(g, 'text', {x: lx + 20, y: ly + 7, 'font-size': 19, 'font-style': 'italic', fill: '#222'}, n), 'rainfall-legend-label');
  });
})();
</script>
</body>
</html>
